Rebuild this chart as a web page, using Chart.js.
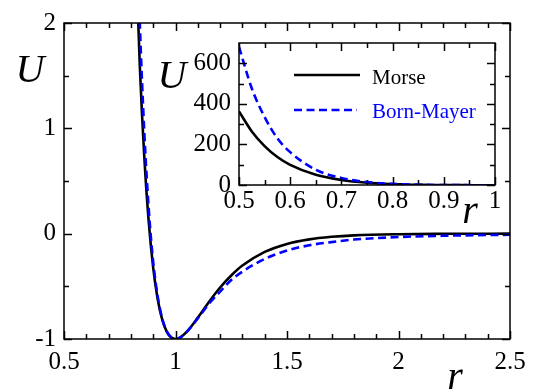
<!DOCTYPE html>
<html>
<head>
<meta charset="utf-8">
<script src="https://cdn.jsdelivr.net/npm/chart.js@4.4.0/dist/chart.umd.min.js"></script>
<style>
  html, body { margin: 0; padding: 0; background: #fff; }
  #wrap { position: relative; width: 534px; height: 392px; overflow: hidden; }
  #mainChart { position: absolute; left: 0; top: 0; }
  #insetChart { position: absolute; left: 150px; top: 20px; }
</style>
</head>
<body>
<div id="wrap">
  <canvas id="mainChart" width="534" height="392"></canvas>
  <canvas id="insetChart" width="360" height="215"></canvas>
</div>
<script>
// values (r, U)
const rValues = [0.5, 0.525, 0.55, 0.575, 0.6, 0.65, 0.7, 0.75, 0.8, 0.82, 0.84, 0.86, 0.88, 0.9,
  0.92, 0.94, 0.96, 0.98, 1.0, 1.02, 1.05, 1.1, 1.15, 1.2, 1.25, 1.3, 1.4, 1.5, 1.6, 1.7, 1.8, 2.0, 2.2, 2.5];
const morse = [363, 264, 192, 138, 99, 50, 24.5, 11.1, 4.38, 2.78, 1.59, 0.733, 0.111, -0.324,
  -0.62, -0.812, -0.927, -0.984, -1, -0.987, -0.933, -0.797, -0.648, -0.511, -0.397, -0.303, -0.173,
  -0.097, -0.054, -0.03, -0.016, -0.005, -0.0015, 0];
const bornMayer = [681, 476, 335, 230, 162, 75, 35, 14.6, 5.5, 3.47, 2.0, 0.966, 0.235, -0.27,
  -0.593, -0.803, -0.924, -0.983, -1, -0.987, -0.934, -0.804, -0.666, -0.55, -0.44, -0.36, -0.24,
  -0.16, -0.11, -0.08, -0.056, -0.032, -0.02, -0.01];

const seriesNames = ['Morse', 'Born-Mayer'];

// tick labels
const mainXTicks = [0.5, 1, 1.5, 2, 2.5];
const mainXMinor = [0.6, 0.7, 0.8, 0.9, 1.1, 1.2, 1.3, 1.4, 1.6, 1.7, 1.8, 1.9, 2.1, 2.2, 2.3, 2.4];
const mainYTicks = [-1, 0, 1, 2];
const mainYMinor = [-0.5, 0.5, 1.5];
const insetXTicks = [0.5, 0.6, 0.7, 0.8, 0.9, 1];
const insetXMinor = [0.55, 0.65, 0.75, 0.85, 0.95];
const insetYTicks = [0, 200, 400, 600];
const insetYMinor = [100, 300, 500];

const FONT = 'Liberation Serif';
Chart.defaults.font.family = FONT;

function toPoints(ys) {
  return rValues.map((r, i) => ({ x: r, y: ys[i] }));
}

function makeDatasets() {
  return [
    {
      label: seriesNames[0],
      data: toPoints(morse),
      borderColor: '#000',
      borderWidth: 2.6,
      order: 2
    },
    {
      label: seriesNames[1],
      data: toPoints(bornMayer),
      borderColor: '#0000ff',
      borderWidth: 2.6,
      borderDash: [8, 4.5],
      order: 1
    }
  ];
}

// box + inward ticks on all four sides
function frameTicks(xMajor, xMinor, yMajor, yMinor, bigLen, smallLen) {
  return {
    id: 'frameTicks',
    afterDraw(chart) {
      const { ctx, chartArea: a } = chart;
      const sx = chart.scales.x, sy = chart.scales.y;
      ctx.save();
      ctx.strokeStyle = '#000';
      ctx.lineWidth = 1.5;
      ctx.beginPath();
      const markX = (vals, len) => vals.forEach(v => {
        const px = Math.round(sx.getPixelForValue(v)) + 0.5;
        ctx.moveTo(px, a.bottom); ctx.lineTo(px, a.bottom - len);
        ctx.moveTo(px, a.top); ctx.lineTo(px, a.top + len);
      });
      const markY = (vals, len) => vals.forEach(v => {
        const py = Math.round(sy.getPixelForValue(v)) + 0.5;
        ctx.moveTo(a.left, py); ctx.lineTo(a.left + len, py);
        ctx.moveTo(a.right, py); ctx.lineTo(a.right - len, py);
      });
      markX(xMajor, bigLen); markX(xMinor, smallLen);
      markY(yMajor, bigLen); markY(yMinor, smallLen);
      ctx.stroke();
      ctx.strokeRect(a.left, a.top, a.right - a.left, a.bottom - a.top);
      ctx.restore();
    }
  };
}

// axis titles and (for the inset) the legend
function labels(items) {
  return {
    id: 'labels',
    afterDraw(chart) {
      const ctx = chart.ctx;
      ctx.save();
      items.forEach(it => {
        if (it.line) {
          ctx.beginPath();
          ctx.strokeStyle = it.color;
          ctx.lineWidth = 2.6;
          ctx.setLineDash(it.dash || []);
          ctx.moveTo(it.line[0], it.line[2]);
          ctx.lineTo(it.line[1], it.line[2]);
          ctx.stroke();
          ctx.setLineDash([]);
        }
        if (it.text) {
          ctx.font = it.font;
          ctx.fillStyle = it.color || '#000';
          ctx.textAlign = it.align || 'left';
          ctx.textBaseline = 'alphabetic';
          ctx.fillText(it.text, it.x, it.y);
        }
      });
      ctx.restore();
    }
  };
}

function axisOptions(min, max, values, size, fitSize, padding) {
  return {
    type: 'linear',
    min: min,
    max: max,
    grid: { display: false, drawTicks: false },
    border: { display: false },
    afterBuildTicks: s => { s.ticks = values.map(v => ({ value: v })); },
    afterFit: s => { if (s.isHorizontal()) s.height = fitSize; else s.width = fitSize; },
    ticks: {
      font: { family: FONT, size: size },
      color: '#000',
      padding: padding,
      maxRotation: 0,
      autoSkip: false,
      callback: v => String(v)
    }
  };
}

const baseOptions = {
  responsive: false,
  animation: false,
  events: [],
  plugins: { legend: { display: false }, tooltip: { enabled: false } },
  elements: {
    point: { radius: 0 },
    line: { cubicInterpolationMode: 'monotone', capBezierPoints: false, fill: false }
  }
};

const mainChart = new Chart(document.getElementById('mainChart'), {
  type: 'line',
  data: { datasets: makeDatasets() },
  options: {
    ...baseOptions,
    layout: { padding: { top: 18, right: 24, left: 0, bottom: 0 } },
    scales: {
      x: axisOptions(0.5, 2.5, mainXTicks, 25, 53, 8),
      y: axisOptions(-1, 2, mainYTicks, 25, 64, 8)
    }
  },
  plugins: [
    frameTicks(mainXTicks, mainXMinor, mainYTicks, mainYMinor, 8, 5),
    labels([
      { text: 'U', x: 30, y: 82, align: 'center', font: 'italic 40px ' + FONT },
      { text: 'r', x: 455, y: 389, align: 'center', font: 'italic 40px ' + FONT }
    ])
  ]
});

const insetChart = new Chart(document.getElementById('insetChart'), {
  type: 'line',
  data: { datasets: makeDatasets() },
  options: {
    ...baseOptions,
    layout: { padding: { top: 14, right: 15, left: 0, bottom: 0 } },
    scales: {
      x: axisOptions(0.5, 1, insetXTicks, 25, 50, 1),
      y: axisOptions(0, 700, insetYTicks, 25, 89, 8)
    }
  },
  plugins: [
    frameTicks(insetXTicks, insetXMinor, insetYTicks, insetYMinor, 8, 5),
    labels([
      { text: 'U', x: 22, y: 68, align: 'center', font: 'italic 40px ' + FONT },
      { text: 'r', x: 320, y: 203, align: 'center', font: 'italic 40px ' + FONT },
      { line: [144, 210, 55], color: '#000' },
      { text: seriesNames[0], x: 222, y: 64, font: '21px ' + FONT, color: '#000' },
      { line: [144, 207, 90], color: '#0000ff', dash: [8, 4.5] },
      { text: seriesNames[1], x: 222, y: 98, font: '21px ' + FONT, color: '#0000ff' }
    ])
  ]
});
</script>
</body>
</html>
